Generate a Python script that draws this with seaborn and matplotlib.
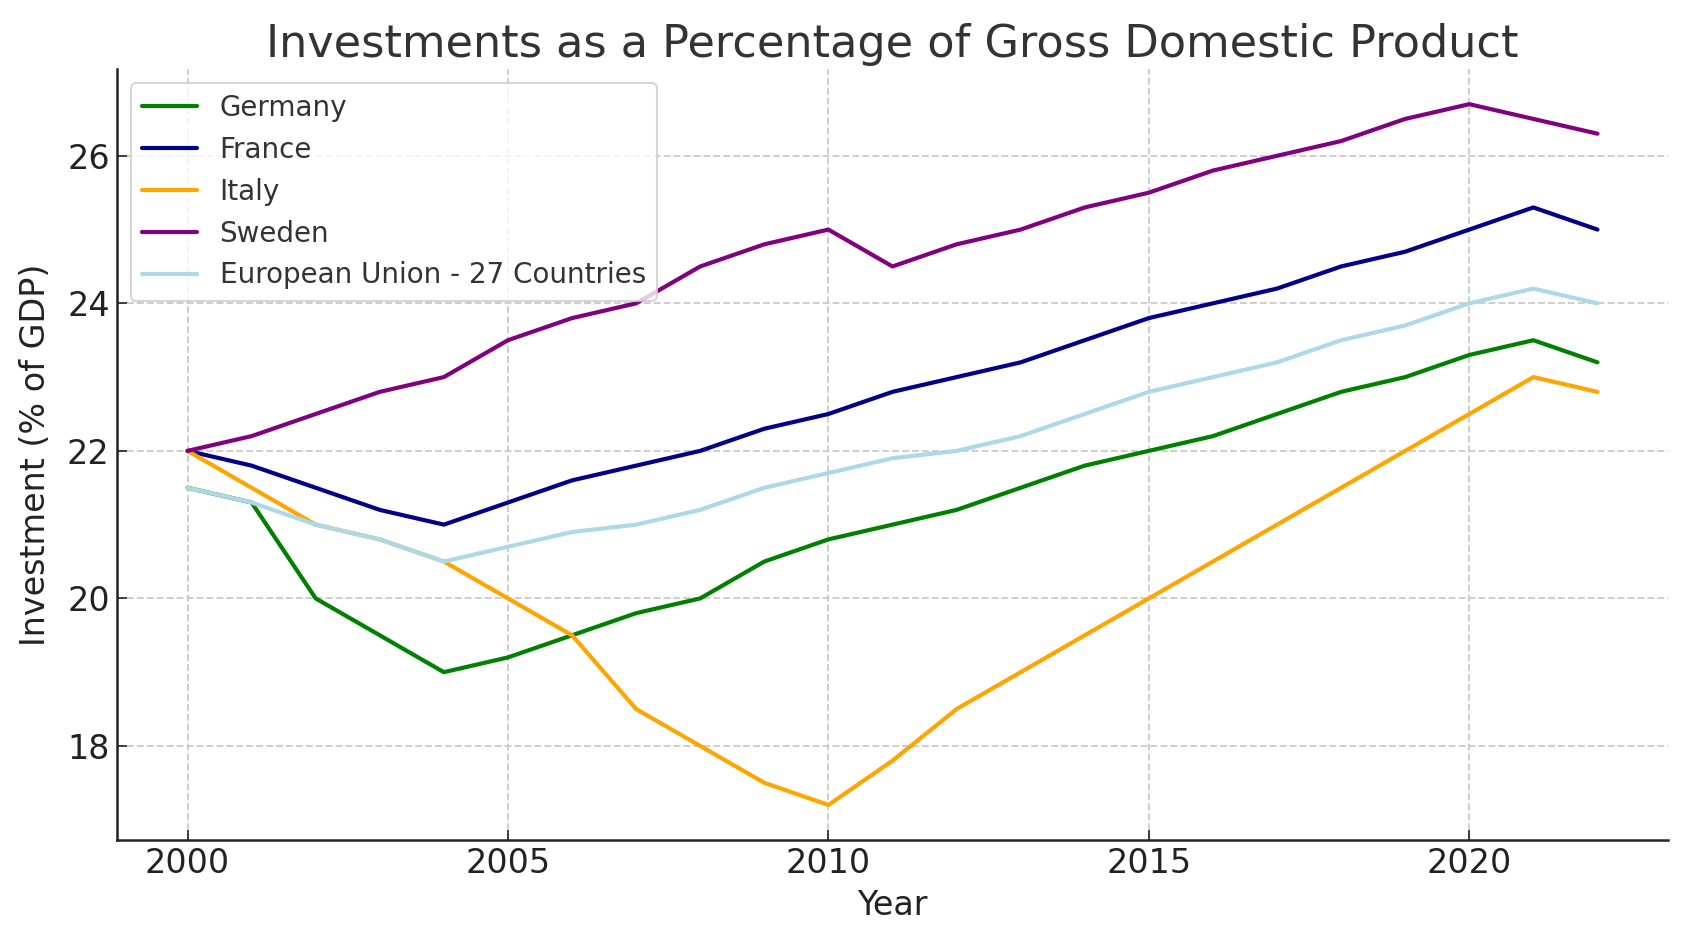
import matplotlib
matplotlib.use("Agg")
import matplotlib.pyplot as plt
import seaborn as sns
import pandas as pd

# data
years = list(range(2000, 2023))
germany = [21.5, 21.3, 20.0, 19.5, 19.0, 19.2, 19.5, 19.8, 20.0, 20.5, 20.8, 21.0,
           21.2, 21.5, 21.8, 22.0, 22.2, 22.5, 22.8, 23.0, 23.3, 23.5, 23.2]
france = [22.0, 21.8, 21.5, 21.2, 21.0, 21.3, 21.6, 21.8, 22.0, 22.3, 22.5, 22.8,
          23.0, 23.2, 23.5, 23.8, 24.0, 24.2, 24.5, 24.7, 25.0, 25.3, 25.0]
italy = [22.0, 21.5, 21.0, 20.8, 20.5, 20.0, 19.5, 18.5, 18.0, 17.5, 17.2, 17.8,
         18.5, 19.0, 19.5, 20.0, 20.5, 21.0, 21.5, 22.0, 22.5, 23.0, 22.8]
sweden = [22.0, 22.2, 22.5, 22.8, 23.0, 23.5, 23.8, 24.0, 24.5, 24.8, 25.0, 24.5,
          24.8, 25.0, 25.3, 25.5, 25.8, 26.0, 26.2, 26.5, 26.7, 26.5, 26.3]
eu27 = [21.5, 21.3, 21.0, 20.8, 20.5, 20.7, 20.9, 21.0, 21.2, 21.5, 21.7, 21.9,
        22.0, 22.2, 22.5, 22.8, 23.0, 23.2, 23.5, 23.7, 24.0, 24.2, 24.0]

countries = ["Germany", "France", "Italy", "Sweden", "European Union - 27 Countries"]
colors = ["green", "darkblue", "orange", "purple", "lightblue"]

series = [germany, france, italy, sweden, eu27]
df = pd.concat(
    [pd.DataFrame({"Year": years, "Investment": vals, "Country": name})
     for name, vals in zip(countries, series)],
    ignore_index=True,
)

sns.set_style("ticks")
plt.rcParams["font.family"] = ["DejaVu Sans"]

fig, ax = plt.subplots(figsize=(1686 / 150, 947 / 150), dpi=150)
fig.subplots_adjust(left=0.0694, right=0.9893, top=0.927, bottom=0.113)

sns.lineplot(data=df, x="Year", y="Investment", hue="Country",
             hue_order=countries, palette=colors, linewidth=2, ax=ax)

ax.set_title("Investments as a Percentage of Gross Domestic Product",
             fontsize=21.4, color="#333333")
ax.set_xlabel("Year", fontsize=16, color="#222222")
ax.set_ylabel("Investment (% of GDP)", fontsize=16, color="#222222", labelpad=7)
ax.set_xticks([2000, 2005, 2010, 2015, 2020])
ax.set_yticks([18, 20, 22, 24, 26])
ax.tick_params(axis="both", direction="in", length=5, labelsize=16,
               labelcolor="#222222", color="#222222")
ax.grid(True, linestyle="--", color="#cccccc", linewidth=0.9)
ax.margins(x=0.05, y=0.05)
sns.despine(ax=ax)
for s in ["left", "bottom"]:
    ax.spines[s].set_linewidth(1.2)
    ax.spines[s].set_color("#222222")

leg = ax.legend(loc="upper left", fontsize=13.3, frameon=True, fancybox=True)
leg.get_frame().set_edgecolor("#cccccc")
for t in leg.get_texts():
    t.set_color("#333333")

fig.savefig("out.png", dpi=150)
